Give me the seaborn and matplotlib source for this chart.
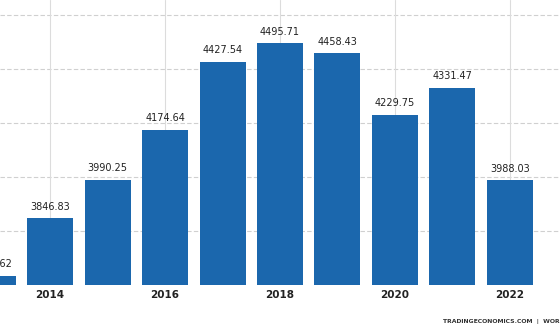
import matplotlib
matplotlib.use("Agg")
import matplotlib.pyplot as plt
import seaborn as sns
import pandas as pd

years = ["2013", "2014", "2015", "2016", "2017", "2018", "2019", "2020", "2021", "2022"]
values = [3633.62, 3846.83, 3990.25, 4174.64, 4427.54, 4495.71, 4458.43, 4229.75, 4331.47, 3988.03]
tick_years = ["2014", "2016", "2018", "2020", "2022"]
grid_values = [3800, 4000, 4200, 4400, 4600]

sns.set_theme(style="white")
plt.rcParams['font.family'] = ['DejaVu Sans']

df = pd.DataFrame({"year": years, "value": values})

fig = plt.figure(figsize=(5.6, 3.35), dpi=100)
ax = fig.add_axes([0, 50/335, 1, 285/335])

bar_color = "#1b67ad"
sns.barplot(data=df, x="year", y="value", order=years, color=bar_color,
            width=0.8, saturation=1, linewidth=0, ax=ax, zorder=3)

ax.set_ylim(3600, 4656)
ax.set_xlim(0.13, 9.87)

# gridlines
for g in grid_values:
    ax.axhline(g, color="#d0d0d0", lw=0.8, ls=(0, (4, 2)), zorder=1)
tick_pos = [years.index(t) for t in tick_years]
for p in tick_pos:
    ax.axvline(p, color="#dcdcdc", lw=0.8, zorder=1)

ax.set_xticks(tick_pos)
ax.set_xticklabels(tick_years, fontsize=7.5, fontweight="bold", color="#222222")
ax.tick_params(axis="x", length=0, pad=3.5)
ax.set_yticks([])
ax.set_xlabel("")
ax.set_ylabel("")
for s in ax.spines.values():
    s.set_visible(False)

for i, v in enumerate(values):
    ax.text(i, v + 25, f"{v:.2f}", ha="center", va="bottom", fontsize=7,
            color="#222222", zorder=4)

fig.text(443/560, 1 - 321/335, "TRADINGECONOMICS.COM  |  WORLD BANK", fontsize=4.4,
         fontweight="bold", color="#333333", ha="left", va="center")

fig.savefig("out.png", dpi=100)
